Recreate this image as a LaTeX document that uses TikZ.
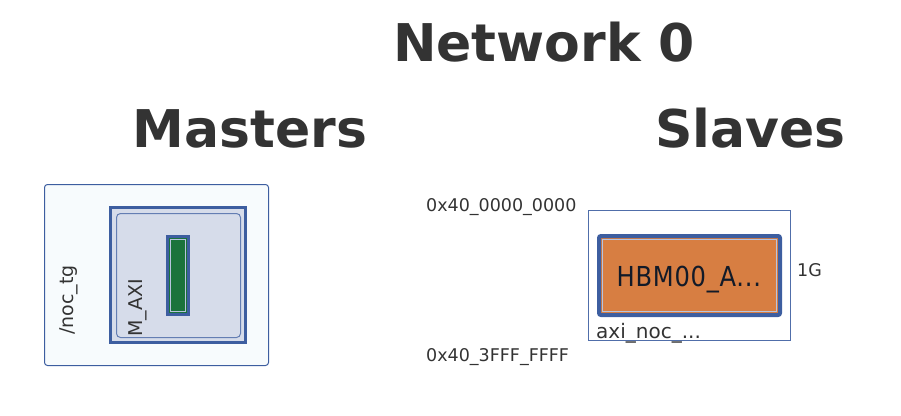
\documentclass[tikz,border=0pt]{standalone}
\usepackage{fontspec}
\setmainfont{DejaVu Sans}
\usepackage{tikz}
\definecolor{nocblue}{RGB}{61,94,160}
\definecolor{noclight}{RGB}{184,196,222}
\definecolor{nocgrey}{RGB}{51,51,51}
\definecolor{mfill}{RGB}{214,220,234}
\definecolor{tgfill}{RGB}{247,251,253}
\definecolor{hbmorange}{RGB}{215,126,66}
\definecolor{hbmtext}{RGB}{18,26,40}
\definecolor{axigreen}{RGB}{27,115,60}

\begin{document}
\begin{tikzpicture}[x=1pt,y=-1pt,
		txt/.style={inner sep=0pt,text=nocgrey,font=\fontsize{17.5}{20}\selectfont},
		head/.style={inner sep=0pt,text=nocgrey,font=\fontsize{52}{60}\selectfont\bfseries,anchor=base}]
		\useasboundingbox (0,0) rectangle (901,415);
		% titles
		\node[head] (net) at (544,61) {Network 0};
		\node[head] (mst) at (250,147) {Masters};
		\node[head] (slv) at (750.5,147) {Slaves};
		
	%% masters
		\draw[nocblue,line width=1pt,fill=tgfill,rounded corners=3pt] (44.5,184.5) rectangle (268.5,365.5);
		\draw[nocblue,line width=3pt,fill=mfill] (110.5,207.5) rectangle (245.5,342.5);
		\draw[nocblue!80,line width=1pt,rounded corners=4pt] (116.5,213.5) rectangle (240.5,337.5);
		\draw[nocblue,line width=3pt,fill=axigreen] (167.5,236.5) rectangle (188.5,314.5);
		\draw[noclight,line width=0.8pt] (170.5,239.5) rectangle (185.5,311.5);
		\node[txt,font=\fontsize{19}{22}\selectfont,rotate=90,anchor=base west] (tg) at (73,335) {/noc\_tg};
		\node[txt,font=\fontsize{19}{22}\selectfont,rotate=90,anchor=base west] (maxi) at (142,337) {M\_AXI};
		
	%% slaves
		\node[txt,anchor=base west] (lo) at (426,211) {0x40\_0000\_0000};
		\node[txt,anchor=base west] (hi) at (426,361.5) {0x40\_3FFF\_FFFF};
		\draw[nocblue!90,line width=1pt] (588.5,210.5) rectangle (790.5,340.5);
		\draw[nocblue,line width=4pt,fill=hbmorange,rounded corners=2pt] (599,236) rectangle (780,315);
		\draw[noclight,line width=1pt] (602.5,239.5) rectangle (776.5,311.5);
		\node[txt,text=hbmtext,font=\fontsize{27.5}{32}\selectfont\addfontfeatures{LetterSpace=3},xscale=0.88,anchor=base west] (hbm) at (616.5,286.5) {HBM00\_A...};
		\node[txt,anchor=base west] (size) at (797,276) {1G};
		\node[txt,font=\fontsize{20}{22}\selectfont,anchor=base west] (axi) at (596,338) {axi\_noc\_...};
\end{tikzpicture}
\end{document}
